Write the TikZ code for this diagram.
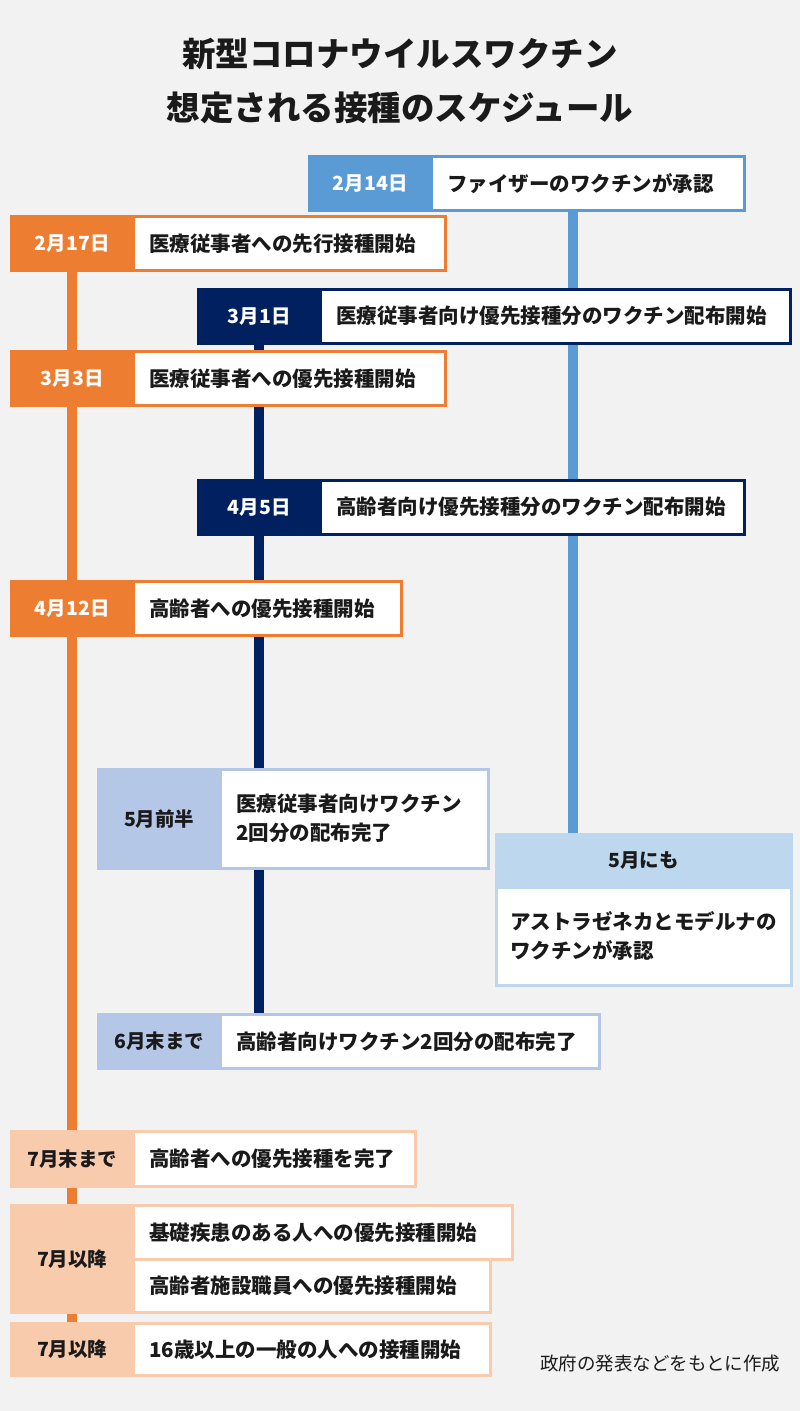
\documentclass[tikz,border=0pt]{standalone}
\usepackage{fontspec}
\setmainfont{Noto Sans CJK JP}
\usetikzlibrary{backgrounds}
\definecolor{vaxBlue}{RGB}{91, 155, 213}
\definecolor{vaxOrange}{RGB}{237, 125, 49}
\definecolor{vaxNavy}{RGB}{0, 32, 96}
\definecolor{paleBlue}{RGB}{180, 199, 231}
\definecolor{skyBlue}{RGB}{189, 215, 238}
\definecolor{peach}{RGB}{248, 203, 173}
\definecolor{bgGray}{RGB}{242, 242, 242}
\definecolor{inkBlack}{RGB}{26, 26, 26}

\begin{document}
\begin{tikzpicture}[x=1pt, y=-1pt,
    datebox/.style={fill=#1, draw=#1, line width=2.5pt, anchor=north west,
      minimum width=122pt, minimum height=54pt, inner sep=0pt,
      font=\fontsize{19.5}{22}\selectfont\bfseries, text=white},
    itembox/.style={draw=#1, fill=white, line width=2.5pt, anchor=north west,
      minimum height=54pt, inner xsep=16pt, inner ysep=0pt, align=left,
      font=\fontsize{20.5}{29}\selectfont\bfseries, text=inkBlack},
    trunk/.style={draw=#1, line width=10pt}]

  \useasboundingbox (0,0) rectangle (800,1411);

  % Title
  \node[font=\fontsize{33.5}{40}\selectfont\bfseries, text=inkBlack] (title1) at (400,54) {新型コロナウイルスワクチン};
  \node[font=\fontsize{33.5}{40}\selectfont\bfseries, text=inkBlack] (title2) at (400,108) {想定される接種のスケジュール};

  % Approvals (blue)
  \node[datebox=vaxBlue] (d214) at (308,155) {2月14日};
  \node[itembox=vaxBlue, text width=281pt] (t214) at (430,155) {ファイザーのワクチンが承認};

  % Vaccination (orange)
  \node[datebox=vaxOrange] (d217) at (10,215) {2月17日};
  \node[itembox=vaxOrange, text width=280pt] (t217) at (132,215) {医療従事者への先行接種開始};

  % Distribution (navy)
  \node[datebox=vaxNavy] (d31) at (197,288) {3月1日};
  \node[itembox=vaxNavy, text width=438pt] (t31) at (319,288) {医療従事者向け優先接種分のワクチン配布開始};

  \node[datebox=vaxOrange] (d33) at (10,350) {3月3日};
  \node[itembox=vaxOrange, text width=280pt] (t33) at (132,350) {医療従事者への優先接種開始};

  \node[datebox=vaxNavy] (d45) at (197,479) {4月5日};
  \node[itembox=vaxNavy, text width=392pt] (t45) at (319,479) {高齢者向け優先接種分のワクチン配布開始};

  \node[datebox=vaxOrange] (d412) at (10,580) {4月12日};
  \node[itembox=vaxOrange, text width=236pt] (t412) at (132,580) {高齢者への優先接種開始};

  \node[datebox=paleBlue, text=inkBlack, minimum height=99pt] (d5a) at (97,768) {5月前半};
  \node[itembox=paleBlue, text width=236pt, minimum height=99pt] (t5a) at (219,768) {医療従事者向けワクチン\\2回分の配布完了};

  \node[datebox=skyBlue, text=inkBlack, minimum width=295pt, minimum height=53pt] (h5) at (495,833) {5月にも};
  \node[itembox=skyBlue, text width=267pt, inner xsep=14pt, minimum height=98pt] (b5) at (495,886) {アストラゼネカとモデルナの\\ワクチンが承認};

  \node[datebox=paleBlue, text=inkBlack] (d6) at (97,1013) {6月末まで};
  \node[itembox=paleBlue, text width=347pt] (t6) at (219,1013) {高齢者向けワクチン2回分の配布完了};

  \node[datebox=peach, text=inkBlack, minimum height=55pt] (d7a) at (10,1130) {7月末まで};
  \node[itembox=peach, text width=250pt, minimum height=55pt] (t7a) at (132,1130) {高齢者への優先接種を完了};

  \node[datebox=peach, text=inkBlack, minimum height=107pt] (d7b) at (10,1204) {7月以降};
  \node[itembox=peach, text width=347pt] (t7b1) at (132,1204) {基礎疾患のある人への優先接種開始};
  \node[itembox=peach, text width=325pt, minimum height=53pt] (t7b2) at (132,1258) {高齢者施設職員への優先接種開始};

  \node[datebox=peach, text=inkBlack, minimum height=52pt] (d7c) at (10,1322) {7月以降};
  \node[itembox=peach, text width=325pt, minimum height=52pt] (t7c) at (132,1322) {16歳以上の一般の人への接種開始};

  \node[anchor=east, font=\fontsize{18.5}{22}\selectfont, text=inkBlack] (src) at (784,1364) {政府の発表などをもとに作成};

  % Timelines behind the boxes
  \coordinate (bluex) at (573,0);
  \begin{pgfonlayer}{background}
    \fill[bgGray] (0,0) rectangle (800,1411);
    \draw[trunk=vaxBlue] (t214.south -| bluex) -- (h5.north -| bluex);
    \draw[trunk=vaxNavy] (d31.center) -- (d31.center |- d6.north);
    \draw[trunk=vaxOrange] (d217.center) -- (d7c.center);
  \end{pgfonlayer}
\end{tikzpicture}
\end{document}
